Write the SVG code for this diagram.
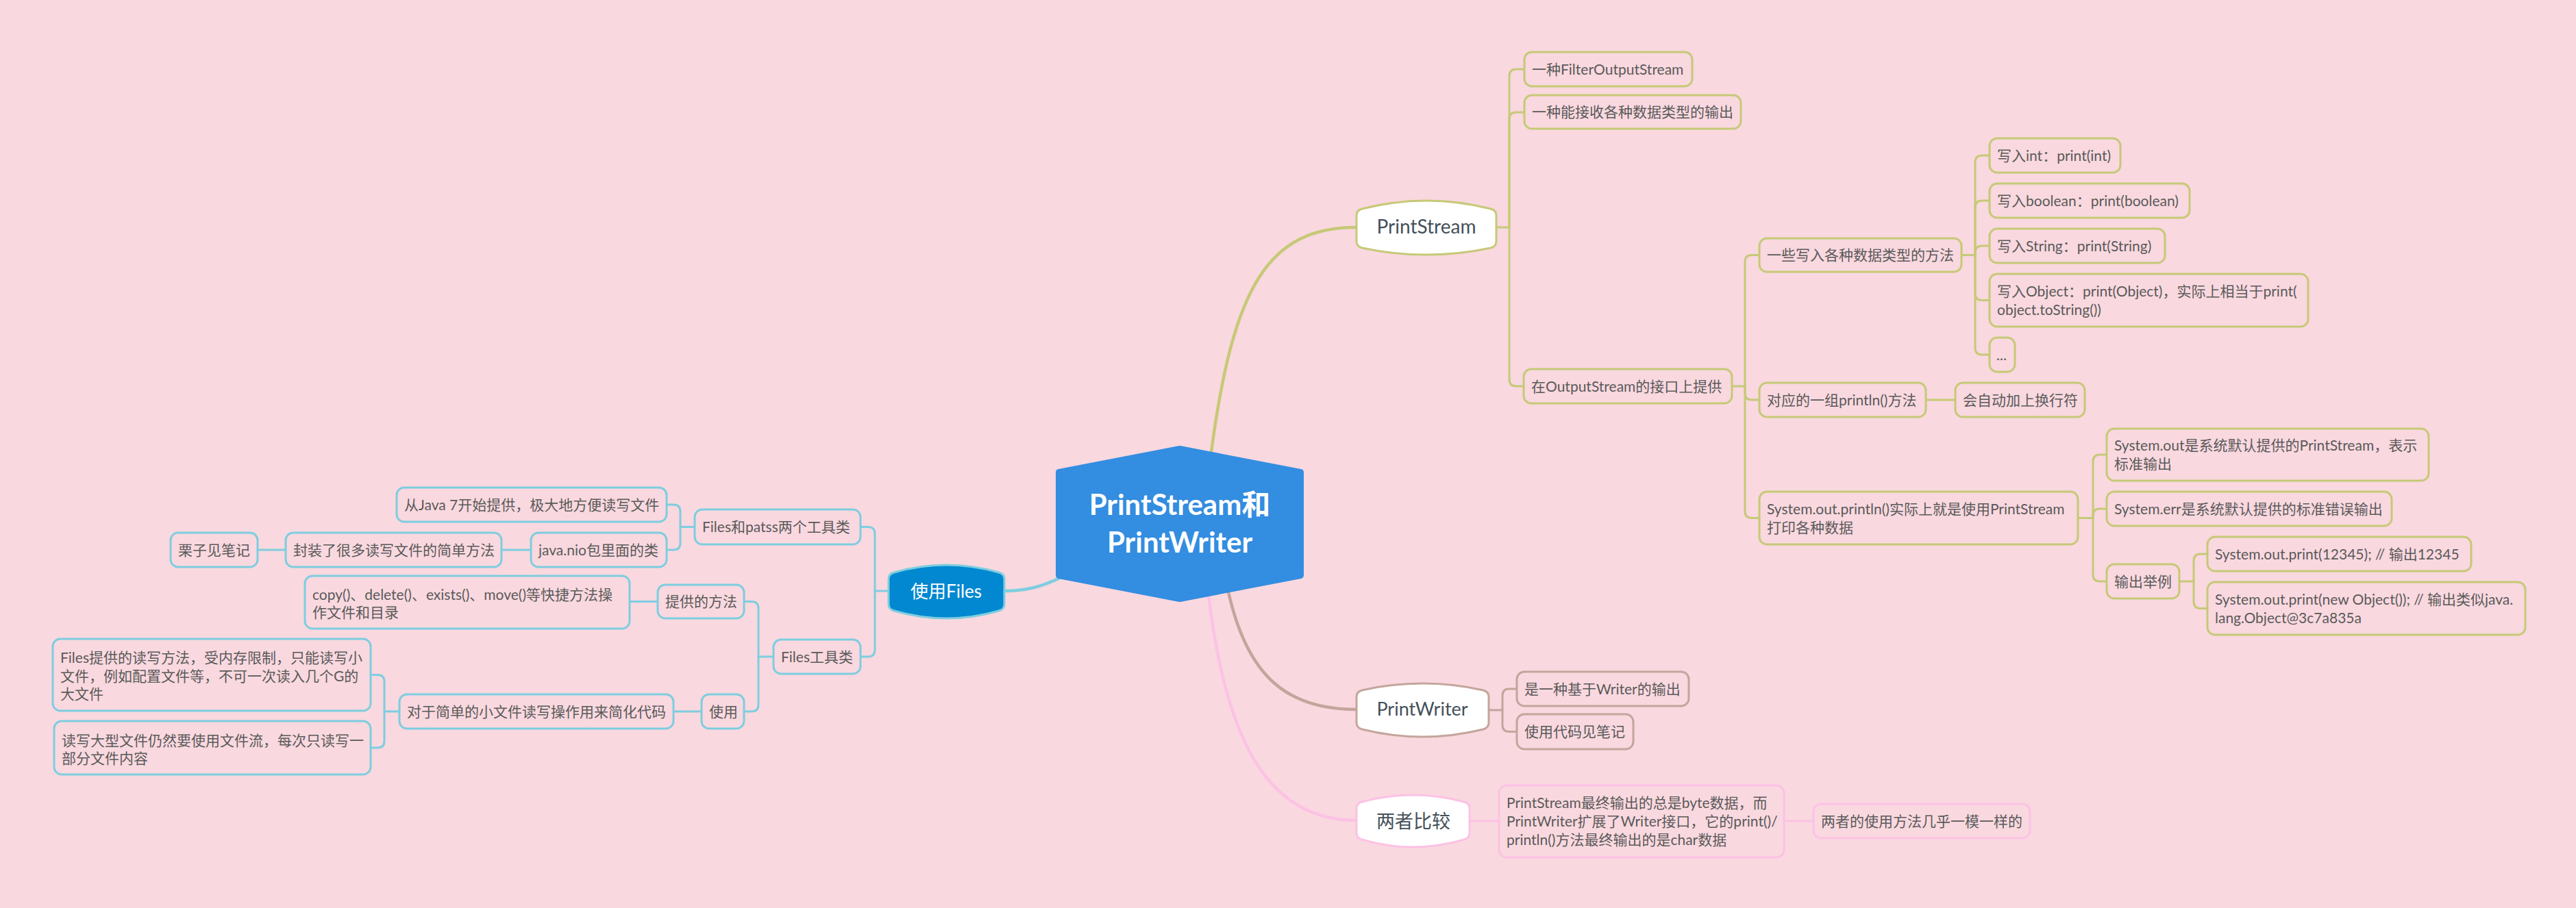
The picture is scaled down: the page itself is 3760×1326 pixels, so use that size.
<svg xmlns="http://www.w3.org/2000/svg" width="3760" height="1326" viewBox="0 0 3760 1326">
<style>
.bg{fill:#F9D8DF}
.c{fill:none;stroke-linecap:round;stroke-linejoin:round}
.main{stroke-width:4.5}
.br{stroke-width:3}
.ol{stroke:#C6C977}
.bw{stroke:#C4A59C}
.pk{stroke:#FCC2E4}
.bl{stroke:#7ECDE0}
.box{fill:#F9D8DF;stroke-width:3}
.topic{fill:#FFFFFF;stroke-width:3}
.t{font-family:"Lato","Noto Sans CJK SC",sans-serif;font-size:21px;fill:#5A5A5A}
.mt{font-family:"Lato","Noto Sans CJK SC",sans-serif;font-size:27px;fill:#44505A;text-anchor:middle}
.ct{font-family:"Lato","Noto Sans CJK SC",sans-serif;font-size:42px;font-weight:bold;fill:#FFFFFF;text-anchor:middle}
</style>
<rect class="bg" x="0" y="0" width="3760" height="1326"/>

<g id="connectors">
  <path class="c main ol" d="M1768,660 C1800,420 1850,332 1980,332"/>
  <path class="c main bw" d="M1792,860 C1820,990 1880,1036 1980,1036"/>
  <path class="c main pk" d="M1763,860 C1790,1100 1860,1198 1980,1198"/>
  <path class="c main bl" d="M1555,840 C1520,858 1495,863 1466,863"/>

  <path class="c br ol" d="M2184,332 H2203 V111 Q2203,101 2213,101 H2225"/>
  <path class="c br ol" d="M2203,332 V174 Q2203,164 2213,164 H2225"/>
  <path class="c br ol" d="M2203,332 V554 Q2203,564 2213,564 H2224"/>

  <path class="c br ol" d="M2528,564 H2547 V382.5 Q2547,372.5 2557,372.5 H2568"/>
  <path class="c br ol" d="M2547,564 V574 Q2547,584 2557,584 H2568"/>
  <path class="c br ol" d="M2547,564 V746.5 Q2547,756.5 2557,756.5 H2568"/>

  <path class="c br ol" d="M2863,372.5 H2883 V237 Q2883,227 2893,227 H2904"/>
  <path class="c br ol" d="M2883,372.5 V303 Q2883,293 2893,293 H2904"/>
  <path class="c br ol" d="M2883,372.5 V369 Q2883,359 2893,359 H2904"/>
  <path class="c br ol" d="M2883,372.5 V428.5 Q2883,438.5 2893,438.5 H2904"/>
  <path class="c br ol" d="M2883,372.5 V508 Q2883,518 2893,518 H2904"/>

  <path class="c br ol" d="M2811,584 H2854"/>

  <path class="c br ol" d="M3033,756.5 H3055 V674 Q3055,664 3065,664 H3075"/>
  <path class="c br ol" d="M3055,756.5 V753 Q3055,743 3065,743 H3075"/>
  <path class="c br ol" d="M3055,756.5 V839 Q3055,849 3065,849 H3075"/>

  <path class="c br ol" d="M3181,849 H3202 V819 Q3202,809 3212,809 H3222"/>
  <path class="c br ol" d="M3202,849 V878.5 Q3202,888.5 3212,888.5 H3222"/>

  <path class="c br bw" d="M2173,1037 H2193 V1016 Q2193,1006 2203,1006 H2214"/>
  <path class="c br bw" d="M2193,1037 V1058.5 Q2193,1068.5 2203,1068.5 H2214"/>

  <path class="c br pk" d="M2145,1199 H2188"/>
  <path class="c br pk" d="M2604,1199 H2647"/>

  <path class="c br bl" d="M1297,863 H1277 V779.5 Q1277,769.5 1267,769.5 H1256"/>
  <path class="c br bl" d="M1277,863 V949 Q1277,959 1267,959 H1256"/>
  <path class="c br bl" d="M1014,769.5 H993 V747 Q993,737 983,737 H973"/>
  <path class="c br bl" d="M993,769.5 V793 Q993,803 983,803 H973"/>
  <path class="c br bl" d="M775,803 H732"/>
  <path class="c br bl" d="M417,803 H376"/>
  <path class="c br bl" d="M1129,959 H1107 V888.5 Q1107,878.5 1097,878.5 H1086"/>
  <path class="c br bl" d="M1107,959 V1029 Q1107,1039 1097,1039 H1086"/>
  <path class="c br bl" d="M960,878.5 H919"/>
  <path class="c br bl" d="M1024,1039 H983"/>
  <path class="c br bl" d="M583,1039 H561 V995.5 Q561,985.5 551,985.5 H541"/>
  <path class="c br bl" d="M561,1039 V1082 Q561,1092 551,1092 H541"/>
</g>

<g id="center">
  <path d="M1546,690 L1722,656 L1898,690 L1898,840 L1722,874 L1546,840 Z" fill="#338DE0" stroke="#338DE0" stroke-width="10" stroke-linejoin="round"/>
  <text class="ct" x="1722" y="752">PrintStream和</text>
  <text class="ct" x="1722" y="807">PrintWriter</text>
</g>

<g id="printstream">
  <path class="topic ol" d="M1980,315 Q1980,307 1988,305 Q2082,281 2176,305 Q2184,307 2184,315 V352 Q2184,360 2176,362 Q2082,382 1988,362 Q1980,360 1980,352 Z"/>
  <text class="mt" x="2082" y="341" style="font-size:28px">PrintStream</text>
</g>
<g id="ps-filter">
  <rect class="box ol" x="2225" y="76" width="245" height="50" rx="11"/>
  <text class="t" x="2236" y="109">一种FilterOutputStream</text>
</g>
<g id="ps-types">
  <rect class="box ol" x="2225" y="139" width="316" height="49" rx="11"/>
  <text class="t" x="2236" y="171">一种能接收各种数据类型的输出</text>
</g>
<g id="ps-iface">
  <rect class="box ol" x="2224" y="539" width="304" height="50" rx="11"/>
  <text class="t" x="2235" y="572">在OutputStream的接口上提供</text>
</g>
<g id="ps-methods">
  <rect class="box ol" x="2568" y="348" width="295" height="49" rx="11"/>
  <text class="t" x="2579" y="380">一些写入各种数据类型的方法</text>
</g>
<g id="m-int">
  <rect class="box ol" x="2904" y="202" width="191" height="50" rx="11"/>
  <text class="t" x="2915" y="234.5">写入int：print(int)</text>
</g>
<g id="m-bool">
  <rect class="box ol" x="2904" y="268" width="292" height="50" rx="11"/>
  <text class="t" x="2915" y="300.5">写入boolean：print(boolean)</text>
</g>
<g id="m-str">
  <rect class="box ol" x="2904" y="334" width="256" height="50" rx="11"/>
  <text class="t" x="2915" y="366.5">写入String：print(String)</text>
</g>
<g id="m-obj">
  <rect class="box ol" x="2904" y="400" width="465" height="77" rx="11"/>
  <text class="t" x="2915" y="433">写入Object：print(Object)，实际上相当于print(</text>
  <text class="t" x="2915" y="459.5">object.toString())</text>
</g>
<g id="m-dots">
  <rect class="box ol" x="2904" y="493" width="37" height="50" rx="11"/>
  <text class="t" x="2914" y="525.5">...</text>
</g>
<g id="ps-println">
  <rect class="box ol" x="2568" y="559" width="243" height="50" rx="11"/>
  <text class="t" x="2579" y="591.5">对应的一组println()方法</text>
</g>
<g id="ps-newline">
  <rect class="box ol" x="2854" y="559" width="189" height="50" rx="11"/>
  <text class="t" x="2865" y="591.5">会自动加上换行符</text>
</g>
<g id="ps-sysout">
  <rect class="box ol" x="2568" y="718" width="465" height="77" rx="11"/>
  <text class="t" x="2579" y="750.5">System.out.println()实际上就是使用PrintStream</text>
  <text class="t" x="2579" y="777.5">打印各种数据</text>
</g>
<g id="s-out">
  <rect class="box ol" x="3075" y="626" width="470" height="76" rx="11"/>
  <text class="t" x="3086" y="657.5">System.out是系统默认提供的PrintStream，表示</text>
  <text class="t" x="3086" y="684.5">标准输出</text>
</g>
<g id="s-err">
  <rect class="box ol" x="3075" y="718" width="416" height="50" rx="11"/>
  <text class="t" x="3086" y="750.5">System.err是系统默认提供的标准错误输出</text>
</g>
<g id="s-example">
  <rect class="box ol" x="3075" y="824" width="106" height="50" rx="11"/>
  <text class="t" x="3086" y="856.5">输出举例</text>
</g>
<g id="ex-1">
  <rect class="box ol" x="3222" y="784" width="385" height="50" rx="11"/>
  <text class="t" x="3233" y="816.5">System.out.print(12345); // 输出12345</text>
</g>
<g id="ex-2">
  <rect class="box ol" x="3222" y="850" width="464" height="77" rx="11"/>
  <text class="t" x="3233" y="882.5">System.out.print(new Object()); // 输出类似java.</text>
  <text class="t" x="3233" y="909.5">lang.Object@3c7a835a</text>
</g>

<g id="printwriter">
  <path class="topic bw" d="M1980,1018 Q1980,1010 1988,1008 Q2076.5,988 2165,1008 Q2173,1010 2173,1018 V1055 Q2173,1063 2165,1065 Q2076.5,1087 1988,1065 Q1980,1063 1980,1055 Z"/>
  <text class="mt" x="2076" y="1045">PrintWriter</text>
</g>
<g id="pw-writer">
  <rect class="box bw" x="2214" y="981" width="251" height="50" rx="11"/>
  <text class="t" x="2225" y="1013.5">是一种基于Writer的输出</text>
</g>
<g id="pw-notes">
  <rect class="box bw" x="2214" y="1043" width="170" height="51" rx="11"/>
  <text class="t" x="2225" y="1076">使用代码见笔记</text>
</g>

<g id="compare">
  <path class="topic pk" d="M1980,1181 Q1980,1173 1988,1171 Q2062.5,1151 2137,1171 Q2145,1173 2145,1181 V1216 Q2145,1224 2137,1226 Q2062.5,1248 1988,1226 Q1980,1224 1980,1216 Z"/>
  <text class="mt" x="2063" y="1209">两者比较</text>
</g>
<g id="cmp-detail">
  <rect class="box pk" x="2188" y="1147" width="416" height="105" rx="11"/>
  <text class="t" x="2199" y="1179.5">PrintStream最终输出的总是byte数据，而</text>
  <text class="t" x="2199" y="1206.5">PrintWriter扩展了Writer接口，它的print()/</text>
  <text class="t" x="2199" y="1233.5">println()方法最终输出的是char数据</text>
</g>
<g id="cmp-same">
  <rect class="box pk" x="2647" y="1174" width="316" height="50" rx="11"/>
  <text class="t" x="2658" y="1206.5">两者的使用方法几乎一模一样的</text>
</g>

<g id="files">
  <path d="M1297,846 Q1297,838 1305,836 Q1381.5,814 1458,836 Q1466,838 1466,846 V882 Q1466,890 1458,892 Q1381.5,914 1305,892 Q1297,890 1297,882 Z" fill="#0288D1" stroke="#7ECDE0" stroke-width="3"/>
  <text class="mt" x="1381" y="873" style="fill:#FFFFFF;font-size:26px">使用Files</text>
</g>
<g id="f-two">
  <rect class="box bl" x="1014" y="744" width="242" height="51" rx="11"/>
  <text class="t" x="1025" y="777">Files和patss两个工具类</text>
</g>
<g id="f-java7">
  <rect class="box bl" x="579" y="712" width="394" height="50" rx="11"/>
  <text class="t" x="590" y="744.5">从Java 7开始提供，极大地方便读写文件</text>
</g>
<g id="f-nio">
  <rect class="box bl" x="775" y="778" width="198" height="50" rx="11"/>
  <text class="t" x="786" y="810.5">java.nio包里面的类</text>
</g>
<g id="f-wrap">
  <rect class="box bl" x="417" y="778" width="315" height="50" rx="11"/>
  <text class="t" x="428" y="810.5">封装了很多读写文件的简单方法</text>
</g>
<g id="f-example">
  <rect class="box bl" x="249" y="778" width="127" height="50" rx="11"/>
  <text class="t" x="260" y="810.5">栗子见笔记</text>
</g>
<g id="f-tool">
  <rect class="box bl" x="1129" y="934" width="127" height="50" rx="11"/>
  <text class="t" x="1140" y="966.5">Files工具类</text>
</g>
<g id="f-provided">
  <rect class="box bl" x="960" y="854" width="126" height="49" rx="11"/>
  <text class="t" x="971" y="886">提供的方法</text>
</g>
<g id="f-copy">
  <rect class="box bl" x="445" y="841" width="474" height="77" rx="11"/>
  <text class="t" x="456" y="875.5">copy()、delete()、exists()、move()等快捷方法操</text>
  <text class="t" x="456" y="901.5">作文件和目录</text>
</g>
<g id="f-use">
  <rect class="box bl" x="1024" y="1014" width="62" height="50" rx="11"/>
  <text class="t" x="1035" y="1046.5">使用</text>
</g>
<g id="f-simple">
  <rect class="box bl" x="583" y="1014" width="400" height="50" rx="11"/>
  <text class="t" x="594" y="1046.5">对于简单的小文件读写操作用来简化代码</text>
</g>
<g id="f-limit">
  <rect class="box bl" x="77" y="933" width="464" height="105" rx="11"/>
  <text class="t" x="88" y="967.5">Files提供的读写方法，受内存限制，只能读写小</text>
  <text class="t" x="88" y="994.5">文件，例如配置文件等，不可一次读入几个G的</text>
  <text class="t" x="88" y="1020.5">大文件</text>
</g>
<g id="f-large">
  <rect class="box bl" x="79" y="1053" width="462" height="78" rx="11"/>
  <text class="t" x="90" y="1088.5">读写大型文件仍然要使用文件流，每次只读写一</text>
  <text class="t" x="90" y="1114.5">部分文件内容</text>
</g>
</svg>
